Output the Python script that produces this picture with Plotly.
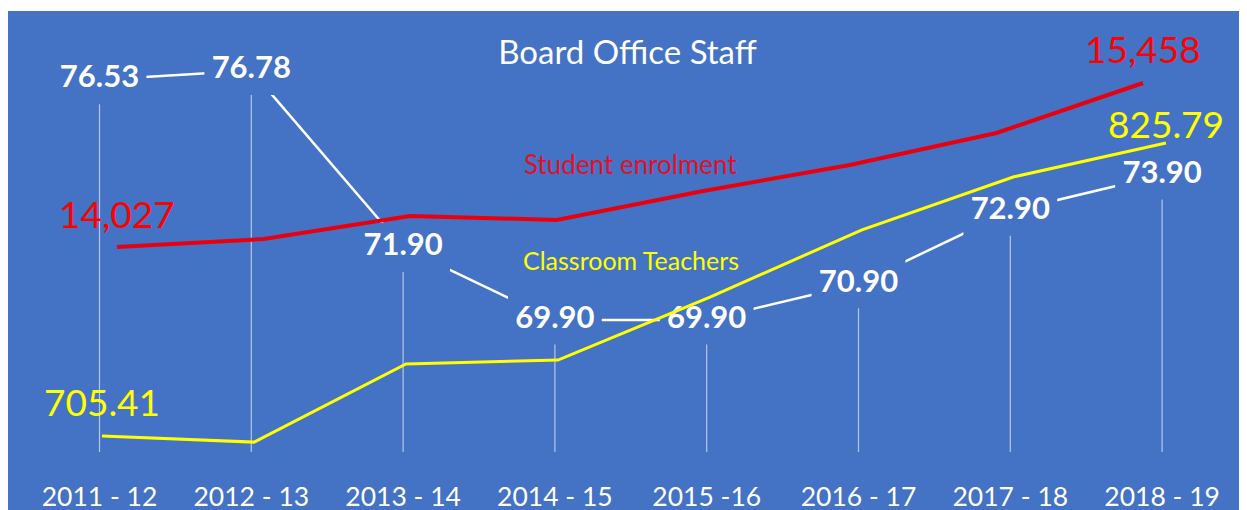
import plotly.graph_objects as go

years = ["2011 - 12", "2012 - 13", "2013 - 14", "2014 - 15",
         "2015 -16", "2016 - 17", "2017 - 18", "2018 - 19"]
office_staff = [76.53, 76.78, 71.90, 69.90, 69.90, 70.90, 72.90, 73.90]
enrolment = [14027, 14097, 14298, 14263, 14516, 14743, 15022, 15458]
teachers = [705.41, 702.9, 735.0, 736.6, 762.5, 790.1, 811.9, 825.79]

BLUE = "#4472C4"
RED = "#E8000E"
YELLOW = "#FFFF00"
FONT = "Lato"

fig = go.Figure()

# drop lines under the board office labels
fig.add_trace(go.Bar(
    x=years, y=office_staff, width=0.008,
    marker=dict(color="rgba(255,255,255,0.6)", line=dict(width=0)),
    xaxis="x", yaxis="y", hoverinfo="skip"))

fig.add_trace(go.Scatter(
    x=years, y=office_staff, mode="lines",
    line=dict(color="white", width=2.5),
    xaxis="x", yaxis="y", name="Board Office Staff"))

# blue boxes behind the labels break the white line around them
fig.add_trace(go.Scatter(
    x=years, y=office_staff, mode="markers+text",
    marker=dict(symbol="line-ew", size=67, color=BLUE,
                line=dict(color=BLUE, width=49)),
    text=["%.2f" % v for v in office_staff], textposition="middle center",
    textfont=dict(family=FONT, size=31, color="white", weight="bold"),
    xaxis="x", yaxis="y", hoverinfo="skip"))

fig.add_trace(go.Scatter(
    x=years, y=teachers, mode="lines",
    line=dict(color=YELLOW, width=3),
    xaxis="x3", yaxis="y3", name="Classroom Teachers"))

fig.add_trace(go.Scatter(
    x=years, y=enrolment, mode="lines",
    line=dict(color=RED, width=4),
    xaxis="x2", yaxis="y2", name="Student enrolment"))

annotations = []
for i, shift in [(0, 34), (7, 35)]:
    annotations.append(dict(
        x=years[i], y=enrolment[i], xref="x2", yref="y2",
        text="{:,}".format(enrolment[i]), showarrow=False, yshift=shift,
        font=dict(family=FONT, size=37, color="#FF0000")))

for i, shift in [(0, 35), (7, 20)]:
    annotations.append(dict(
        x=years[i], y=teachers[i], xref="x3", yref="y3",
        text="%.2f" % teachers[i], showarrow=False, yshift=shift,
        font=dict(family=FONT, size=37, color=YELLOW)))

annotations.append(dict(
    x=3.5, y=0.653, xref="x", yref="paper", text="Student enrolment",
    showarrow=False, font=dict(family=FONT, size=26, color="#E0102A")))
annotations.append(dict(
    x=3.5, y=0.435, xref="x", yref="paper", text="Classroom Teachers",
    showarrow=False, font=dict(family=FONT, size=25, color=YELLOW)))

fig.update_layout(
    width=1239, height=502,
    margin=dict(l=0, r=0, t=3, b=58, autoexpand=False),
    paper_bgcolor=BLUE, plot_bgcolor=BLUE,
    showlegend=False,
    title=dict(text="Board Office Staff", x=0.5, xanchor="center",
               y=0.9124, yanchor="middle",
               font=dict(family=FONT, size=33, color="white")),
    xaxis=dict(type="category", categoryarray=years, automargin=False,
               range=[-0.6028, 7.5593], showgrid=False, zeroline=False,
               showline=False, ticks="outside", ticklen=21,
               tickcolor="rgba(0,0,0,0)",
               tickfont=dict(family=FONT, size=26.5, color="white")),
    yaxis=dict(range=[66.259, 78.424], visible=False),
    xaxis2=dict(type="category", categoryarray=years, overlaying="x",
                range=[-0.7437, 7.7096], visible=False, anchor="y2"),
    yaxis2=dict(range=[12238.3, 16086.2], overlaying="y", visible=False,
                anchor="x2"),
    xaxis3=dict(type="category", categoryarray=years, overlaying="x",
                range=[-0.6184, 7.5329], visible=False, anchor="y3"),
    yaxis3=dict(range=[698.84, 880.02], overlaying="y", visible=False,
                anchor="x3"),
    annotations=annotations,
    shapes=[
        dict(type="rect", xref="paper", yref="paper", ysizemode="pixel",
             yanchor=1, y0=0, y1=3, x0=-0.1, x1=1.1,
             fillcolor="white", line=dict(width=0)),
    ],
)

fig.write_html("out.html")
